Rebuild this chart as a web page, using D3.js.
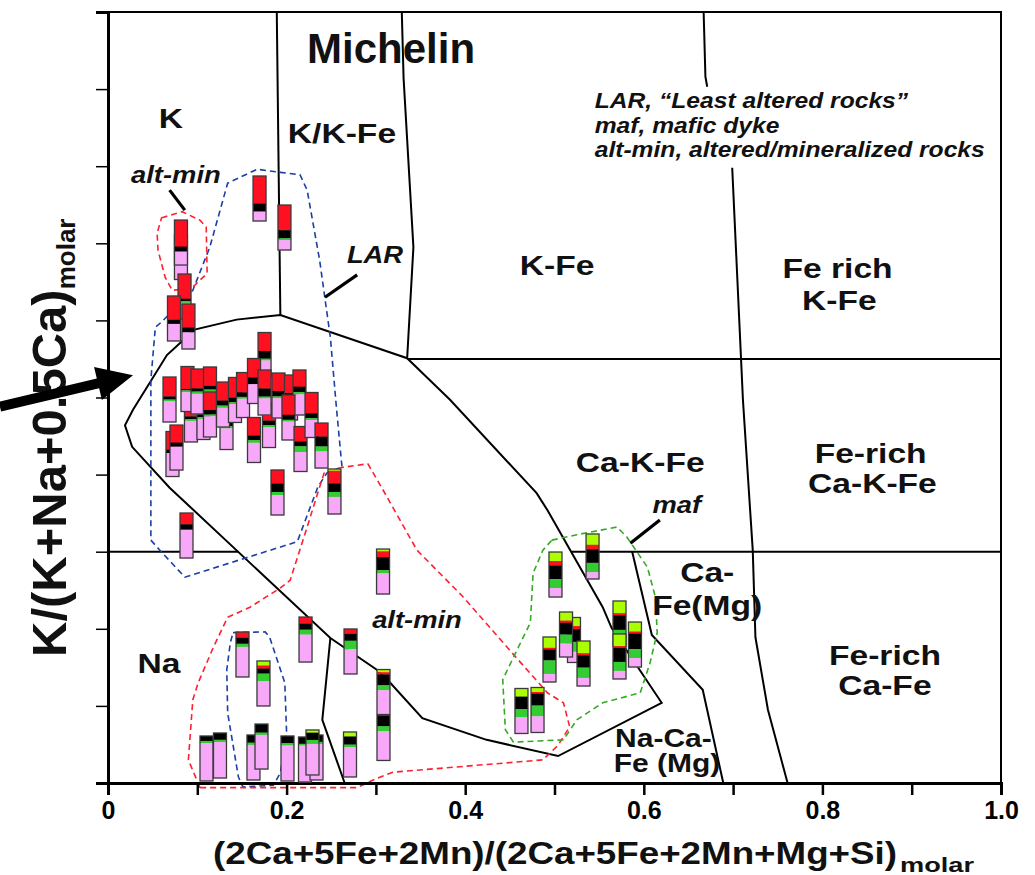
<!DOCTYPE html>
<html><head><meta charset="utf-8">
<script src="https://cdn.jsdelivr.net/npm/d3@7"></script>
<style>
html,body{margin:0;padding:0;background:#fff;}
svg{display:block;font-family:"Liberation Sans",Arial,sans-serif;}
</style></head>
<body><div id="chart"></div>
<script>
// ---------- DATA ----------
const xTicks = [0,0.1,0.2,0.3,0.4,0.5,0.6,0.7,0.8,0.9,1.0];
const xTickLabels = ["0","","0.2","","0.4","","0.6","","0.8","","1.0"];
const yTicks = [0,0.1,0.2,0.3,0.4,0.5,0.6,0.7,0.8,0.9,1.0];

// field boundaries (data units)
const lineKKFe = [[0.189,1.0],[0.193,0.607]];
const lineKFe = [[0.329,1.0],[0.331,0.914],[0.342,0.695],[0.335,0.551]];
const lineH055 = [[0.335,0.55],[1.0,0.55]];
const lineH030a = [[0,0.3],[0.146,0.3]];
const lineH030b = [[0.519,0.3],[1.0,0.3]];
const lineNa = [[0.249,0.188],[0.240,0.082],[0.265,0.0]];
const lineCaFe = [[0.587,0.3],[0.609,0.192],[0.666,0.121],[0.689,0.0]];
const lineFeRichTop = [[0.667,1.0],[0.669,0.916],[0.671,0.903]];
const lineFeRich = [[0.699,0.798],[0.711,0.497],[0.722,0.302],[0.725,0.189],[0.739,0.095],[0.761,0.0]];
const larField = [[0.335,0.551],[0.383,0.497],[0.480,0.376],[0.492,0.354],[0.554,0.228],[0.564,0.201],[0.620,0.104],[0.504,0.035],[0.424,0.056],[0.352,0.084],[0.316,0.130],[0.301,0.147],[0.249,0.188],[0.069,0.383],[0.027,0.436],[0.019,0.464],[0.028,0.484],[0.066,0.555],[0.097,0.588],[0.144,0.601],[0.193,0.607]];

// dashed sample envelopes
const larEnvelope = [[0.048,0.315],[0.058,0.302],[0.086,0.267],[0.212,0.313],[0.235,0.384],[0.245,0.402],[0.262,0.410],[0.256,0.484],[0.249,0.578],[0.237,0.678],[0.223,0.769],[0.215,0.789],[0.193,0.792],[0.167,0.796],[0.134,0.778],[0.114,0.695],[0.095,0.639],[0.060,0.598],[0.053,0.591],[0.048,0.523]];
const larNaEnvelope = [[0.140,0.195],[0.176,0.196],[0.181,0.189],[0.198,0.130],[0.200,0.065],[0.193,0.013],[0.185,-0.003],[0.151,-0.005],[0.146,0.008],[0.134,0.091],[0.133,0.147],[0.137,0.182]];
const altMinUpper = [[0.060,0.733],[0.083,0.741],[0.103,0.730],[0.110,0.721],[0.111,0.661],[0.101,0.650],[0.094,0.642],[0.072,0.639],[0.064,0.656],[0.056,0.691],[0.055,0.713]];
const altMinLower = [[0.103,-0.006],[0.090,0.030],[0.095,0.108],[0.101,0.130],[0.118,0.176],[0.134,0.215],[0.159,0.228],[0.193,0.253],[0.204,0.263],[0.223,0.332],[0.237,0.384],[0.242,0.402],[0.260,0.409],[0.291,0.414],[0.308,0.380],[0.346,0.302],[0.398,0.241],[0.447,0.176],[0.492,0.117],[0.510,0.104],[0.517,0.073],[0.504,0.049],[0.487,0.030],[0.319,0.014],[0.301,0.006],[0.279,-0.006]];
const mafEnvelope = [[0.497,0.315],[0.525,0.322],[0.570,0.332],[0.581,0.319],[0.604,0.280],[0.613,0.241],[0.615,0.195],[0.607,0.156],[0.596,0.117],[0.554,0.104],[0.525,0.082],[0.510,0.056],[0.454,0.053],[0.445,0.069],[0.442,0.134],[0.454,0.163],[0.473,0.208],[0.476,0.272],[0.487,0.302]];

// sample glyphs: [x, y, lime, red, black, green, pink] (fractions of bar)
const upperGlyphs = [
 [0.1697,0.7581,0,0.61,0.18,0,0.21],
 [0.1976,0.7205,0,0.56,0.18,0.04,0.22],
 [0.0817,0.6822,0,0.55,0.10,0,0.35],
 [0.0817,0.7010,0,0.59,0.11,0,0.30],
 [0.0857,0.6310,0,0.55,0.05,0.04,0.36],
 [0.0739,0.6025,0,0.53,0.09,0,0.38],
 [0.0901,0.5921,0,0.52,0.11,0,0.37]
];
const clusterGlyphs = [
 [0.0722,0.4267,0,0.40,0.08,0,0.52],
 [0.0767,0.4351,0,0.39,0.09,0,0.52],
 [0.0689,0.4974,0,0.43,0.07,0.04,0.46],
 [0.1753,0.5551,0,0.41,0.17,0.04,0.38],
 [0.0929,0.4715,0,0.43,0.06,0.04,0.47],
 [0.1069,0.4747,0,0.42,0.08,0.04,0.46],
 [0.0890,0.5110,0,0.50,0.03,0.04,0.43],
 [0.1002,0.5078,0,0.43,0.07,0.05,0.45],
 [0.1142,0.5104,0,0.42,0.08,0.05,0.45],
 [0.1142,0.4780,0,0.40,0.10,0.04,0.46],
 [0.1327,0.4617,0,0.40,0.08,0.05,0.47],
 [0.1288,0.4909,0,0.41,0.11,0.05,0.43],
 [0.1422,0.4968,0,0.45,0.10,0.04,0.41],
 [0.1512,0.5032,0,0.44,0.10,0.04,0.42],
 [0.1635,0.4449,0,0.40,0.10,0.06,0.44],
 [0.1635,0.5214,0,0.42,0.15,0,0.43],
 [0.1803,0.4643,0,0.40,0.10,0.05,0.45],
 [0.1753,0.5065,0,0.41,0.18,0.04,0.37],
 [0.1909,0.5026,0,0.40,0.12,0.04,0.44],
 [0.2049,0.5000,0,0.40,0.12,0.04,0.44],
 [0.2144,0.5065,0,0.37,0.12,0.05,0.46],
 [0.2021,0.4741,0,0.44,0.11,0.04,0.41],
 [0.2156,0.4332,0,0.33,0.11,0.13,0.43],
 [0.2279,0.4773,0,0.46,0.11,0.04,0.39],
 [0.2391,0.4377,0,0.30,0.22,0.11,0.37],
 [0.1898,0.3768,0,0.30,0.19,0.07,0.44],
 [0.2536,0.3781,0.04,0.28,0.19,0.11,0.38],
 [0.0879,0.3210,0,0.25,0.12,0,0.63]
];
const lowerGlyphs = [
 [0.3080,0.2743,0.05,0.13,0.29,0.07,0.46],
 [0.1506,0.1667,0,0.13,0.13,0.07,0.67],
 [0.1741,0.1291,0.10,0.07,0.11,0.17,0.55],
 [0.2212,0.1861,0,0.15,0.13,0.11,0.61],
 [0.2716,0.1706,0,0.11,0.15,0.19,0.55],
 [0.3085,0.1180,0.06,0.05,0.24,0.11,0.54],
 [0.3085,0.0584,0,0,0.24,0.11,0.65],
 [0.2710,0.0370,0.10,0,0.18,0.06,0.66],
 [0.1103,0.0318,0,0,0.11,0.05,0.84],
 [0.1254,0.0357,0,0,0.15,0.05,0.80],
 [0.1629,0.0331,0,0,0.17,0.05,0.78],
 [0.1719,0.0473,0,0,0.19,0.05,0.76],
 [0.2010,0.0318,0,0,0.16,0.05,0.79],
 [0.2206,0.0305,0,0,0.15,0.04,0.81],
 [0.2335,0.0331,0,0,0.15,0.05,0.80],
 [0.2290,0.0396,0.06,0,0.16,0.09,0.69]
];
const mafGlyphs = [
 [0.5011,0.2704,0.20,0.10,0.30,0.20,0.20],
 [0.5426,0.2938,0.24,0.10,0.30,0.21,0.15],
 [0.5218,0.1855,0.19,0.07,0.28,0.22,0.24],
 [0.5129,0.1926,0.19,0.05,0.26,0.20,0.30],
 [0.5325,0.1550,0.27,0.05,0.27,0.23,0.18],
 [0.4944,0.1602,0.24,0.04,0.24,0.30,0.18],
 [0.5728,0.2069,0.27,0.05,0.32,0.20,0.16],
 [0.5728,0.1641,0.27,0.04,0.31,0.20,0.18],
 [0.5901,0.1796,0.21,0.05,0.34,0.20,0.20],
 [0.4630,0.0934,0.18,0,0.28,0.18,0.36],
 [0.4810,0.0947,0.10,0.04,0.26,0.24,0.36]
];
const segColors = ["#aaff00","#ff1020","#000000","#33cc33","#f8a8f8"];

// labels: [x, y(baseline), text]
const fieldLabels = [
 [0.0705,0.850,"K"],[0.262,0.830,"K/K-Fe"],[0.503,0.659,"K-Fe"],
 [0.817,0.655,"Fe rich"],[0.819,0.613,"K-Fe"],
 [0.596,0.403,"Ca-K-Fe"],[0.854,0.415,"Fe-rich"],[0.856,0.376,"Ca-K-Fe"],
 [0.671,0.261,"Ca-"],[0.671,0.218,"Fe(Mg)"],
 [0.870,0.153,"Fe-rich"],[0.870,0.114,"Ca-Fe"],[0.057,0.143,"Na"]
];
const smallFieldLabels = [[0.622,0.047,"Na-Ca-"],[0.626,0.014,"Fe (Mg)"]];
const italicLabels = [[0.346,0.201,"alt-min"],[0.076,0.778,"alt-min"],[0.299,0.674,"LAR"],[0.637,0.350,"maf"]];
const pointers = [
 [[0.069,0.769],[0.086,0.743]],
 [[0.279,0.659],[0.243,0.630]],
 [[0.618,0.341],[0.585,0.311]]
];
const legendLines = ["LAR, \u201cLeast altered rocks\u201d","maf, mafic dyke","alt-min, altered/mineralized rocks"];
const arrowData = [[-0.121,0.488],[0.028,0.529]];

// ---------- DRAW ----------
const W=1035,H=875;
const svg=d3.select("#chart").append("svg").attr("width",W).attr("height",H);
const x=d3.scaleLinear().domain([0,1]).range([108,1001]);
const y=d3.scaleLinear().domain([0,1]).range([783,12]);
const line=d3.line().x(d=>x(d[0])).y(d=>y(d[1]));
const closed=d3.line().x(d=>x(d[0])).y(d=>y(d[1])).curve(d3.curveLinearClosed);

const bnd=svg.append("g").attr("fill","none").attr("stroke","#000").attr("stroke-width",2);
[lineKKFe,lineKFe,lineH055,lineH030a,lineH030b,lineNa,lineCaFe,lineFeRichTop,lineFeRich].forEach(l=>bnd.append("path").attr("d",line(l)));
bnd.append("path").attr("d",closed(larField));

const env=svg.append("g").attr("fill","none").attr("stroke-width",1.6).attr("stroke-dasharray","6,4");
env.append("path").attr("d",closed(larEnvelope)).attr("stroke","#1a3fa8");
env.append("path").attr("d",closed(larNaEnvelope)).attr("stroke","#1a3fa8");
env.append("path").attr("d",closed(altMinUpper)).attr("stroke","#ff2030");
env.append("path").attr("d",closed(altMinLower)).attr("stroke","#ff2030");
env.append("path").attr("d",closed(mafEnvelope)).attr("stroke","#33aa22");

svg.append("rect").attr("x",x(0)).attr("y",y(1)).attr("width",x(1)-x(0)).attr("height",y(0)-y(1)).attr("fill","none").attr("stroke","#000").attr("stroke-width",2);
const xAxis=d3.axisBottom(x).tickValues(xTicks).tickSize(12).tickFormat((d,i)=>xTickLabels[i]);
const gx=svg.append("g").attr("transform",`translate(0,${y(0)})`).call(xAxis);
gx.select(".domain").attr("stroke-width",3);
gx.selectAll(".tick line").attr("stroke-width",2.5);
gx.selectAll(".tick text").style("font-size","25px").style("font-weight","bold").style("font-family","'Liberation Sans', Arial, sans-serif").attr("dy","0.85em").attr("fill","#000");
const yAxis=d3.axisLeft(y).tickValues(yTicks).tickSize(12).tickFormat("");
const gy=svg.append("g").attr("transform",`translate(${x(0)},0)`).call(yAxis);
gy.select(".domain").attr("stroke-width",3);
gy.selectAll(".tick line").attr("stroke-width",1.5);

const GW=13,GH=45;
function drawGlyphs(arr){
  arr.forEach(d=>{
    const cx=x(d[0]),cy=y(d[1]);
    const g=svg.append("g").attr("transform",`translate(${cx-GW/2},${cy-GH/2})`);
    const fr=d.slice(2,7); const tot=d3.sum(fr);
    let acc=0;
    fr.forEach((f,i)=>{ if(f<=0) return;
      const h=f/tot*GH;
      g.append("rect").attr("x",0).attr("y",acc).attr("width",GW).attr("height",h+0.3).attr("fill",segColors[i]);
      acc+=h;});
    g.append("rect").attr("x",0).attr("y",0).attr("width",GW).attr("height",GH).attr("fill","none").attr("stroke","#3a3a3a").attr("stroke-width",1.3);
  });
}
drawGlyphs(upperGlyphs);drawGlyphs(clusterGlyphs);drawGlyphs(lowerGlyphs);drawGlyphs(mafGlyphs);

function txt(xd,yd,s,size,opt){
  opt=opt||{};
  svg.append("text").attr("transform",`translate(${x(xd)},${y(yd)}) scale(${opt.sx||1},1)`)
    .attr("text-anchor",opt.anchor||"middle").attr("font-size",size).attr("font-weight","bold")
    .attr("font-style",opt.italic?"italic":"normal").attr("fill","#111").text(s);
}
txt(0.317,0.934,"Michelin",42);
fieldLabels.forEach(d=>txt(d[0],d[1],d[2],28,{sx:1.2}));
smallFieldLabels.forEach(d=>txt(d[0],d[1],d[2],25,{sx:1.2}));
italicLabels.forEach(d=>txt(d[0],d[1],d[2],24,{sx:1.14,italic:true}));
legendLines.forEach((s,i)=>txt(0.545,0.875-i*0.0315,s,22,{sx:1.12,italic:true,anchor:"start"}));
pointers.forEach(p=>svg.append("path").attr("d",line(p)).attr("stroke","#000").attr("stroke-width",3.2).attr("fill","none"));

// axis titles
svg.append("text").attr("x",213).attr("y",864).attr("font-size",31).attr("font-weight","bold").attr("fill","#111")
  .attr("textLength",684).attr("lengthAdjust","spacingAndGlyphs").text("(2Ca+5Fe+2Mn)/(2Ca+5Fe+2Mn+Mg+Si)");
svg.append("text").attr("x",900).attr("y",872).attr("font-size",21).attr("font-weight","bold").attr("fill","#111")
  .attr("textLength",74).attr("lengthAdjust","spacingAndGlyphs").text("molar");
const yt=svg.append("text").attr("transform","translate(66,657) rotate(-90)").attr("font-size",49).attr("font-weight","bold").attr("fill","#111");
yt.append("tspan").text("K/(K+Na+0.5Ca)");
yt.append("tspan").attr("font-size",26).attr("dy",9).text("molar");

(function(){
  const p0=[x(arrowData[0][0]),y(arrowData[0][1])],p1=[x(arrowData[1][0]),y(arrowData[1][1])];
  const dx=p1[0]-p0[0],dy=p1[1]-p0[1],L=Math.hypot(dx,dy);const u=[dx/L,dy/L],n=[-u[1],u[0]];
  const hl=36,hw=17,sw=5;const b=[p1[0]-u[0]*hl,p1[1]-u[1]*hl];
  const pts=[[p0[0]+n[0]*sw,p0[1]+n[1]*sw],[b[0]+n[0]*sw,b[1]+n[1]*sw],[b[0]+n[0]*hw,b[1]+n[1]*hw],p1,[b[0]-n[0]*hw,b[1]-n[1]*hw],[b[0]-n[0]*sw,b[1]-n[1]*sw],[p0[0]-n[0]*sw,p0[1]-n[1]*sw]];
  svg.append("path").attr("d","M"+pts.map(p=>p.join(",")).join("L")+"Z").attr("fill","#000");
})();
</script></body></html>
